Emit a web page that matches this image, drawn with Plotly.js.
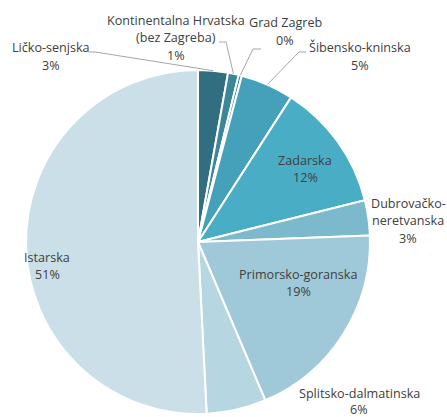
<!DOCTYPE html>
<html>
<head>
<meta charset="utf-8">
<script src="https://cdn.plot.ly/plotly-3.0.1.min.js"></script>
<style>html,body{margin:0;padding:0;background:#fff}#chart{width:447px;height:417px}</style>
</head>
<body>
<div id="chart"></div>
<script>
// Data
const regions = ['Ličko-senjska', 'Kontinentalna Hrvatska (bez Zagreba)', 'Grad Zagreb', 'Šibensko-kninska', 'Zadarska', 'Dubrovačko-neretvanska', 'Primorsko-goranska', 'Splitsko-dalmatinska', 'Istarska'];
const labelLines = [['Ličko-senjska'], ['Kontinentalna Hrvatska', '(bez Zagreba)'], ['Grad Zagreb'], ['Šibensko-kninska'], ['Zadarska'], ['Dubrovačko-', 'neretvanska'], ['Primorsko-goranska'], ['Splitsko-dalmatinska'], ['Istarska']];
const shares = [2.8, 1.0, 0.3, 5.0, 12.0, 3.3, 19.2, 5.6, 50.8];
const colors = ['#316f80', '#3b8799', '#3f92a8', '#45a0b9', '#4aadc6', '#7cb9cd', '#9fc9d8', '#b6d6e1', '#cbdfe8'];

// Geometry (pixels)
const W = 447, H = 417;
const cx = 198, cy = 242, R = 172;
const px = x => x / W;
const py = y => 1 - y / H;

// label placement: text center x, first line y, line step, leader (null or list of points before edge)
const labelPos = [
  {x: 51, y: 48, step: 17.5, lead: [[89, 52], [95, 52]]},
  {x: 176, y: 20, step: 17.5, lead: [[219, 42], [226, 42]]},
  {x: 285, y: 23, step: 17.5, lead: [[261, 49], [253, 49]]},
  {x: 360, y: 48, step: 17.5, lead: [[306, 52], [299, 52]]},
  {x: 305, y: 160, step: 17.5, lead: null},
  {x: 408, y: 203, step: 17.5, lead: null},
  {x: 298, y: 274, step: 17.5, lead: null},
  {x: 359, y: 393, step: 16, lead: null},
  {x: 47, y: 257, step: 17.5, lead: null}
];

const total = shares.reduce((a, b) => a + b, 0);
const annotations = [];
const shapes = [];
let cum = 0;
const font = {family: 'Open Sans, Noto Sans, sans-serif', size: 12.6, color: '#404040'};
shares.forEach((v, i) => {
  const mid = (cum + v / 2) / total * 2 * Math.PI;
  cum += v;
  const lp = labelPos[i];
  const lines = labelLines[i].concat([Math.round(v / total * 100) + '%']);
  lines.forEach((t, k) => {
    annotations.push({
      text: t, xref: 'paper', yref: 'paper', x: px(lp.x), y: py(lp.y + k * lp.step),
      xanchor: 'center', yanchor: 'middle', showarrow: false, font: font
    });
  });
  if (lp.lead) {
    const ex = cx + R * Math.sin(mid), ey = cy - R * Math.cos(mid);
    const pts = lp.lead.concat([[ex, ey]]);
    let path = 'M ' + pts.map(p => px(p[0]).toFixed(4) + ',' + py(p[1]).toFixed(4)).join(' L ');
    shapes.push({type: 'path', xref: 'paper', yref: 'paper', path: path, line: {color: '#a6a6a6', width: 1}});
  }
});

const trace = {
  type: 'pie',
  labels: regions,
  values: shares,
  sort: false,
  direction: 'clockwise',
  rotation: 0,
  textinfo: 'none',
  hoverinfo: 'label+percent',
  marker: {colors: colors, line: {color: '#ffffff', width: 2}},
  domain: {x: [px(cx - R), px(cx + R)], y: [py(cy + R), py(cy - R)]},
  showlegend: false
};

const layout = {
  width: W, height: H,
  margin: {l: 0, r: 0, t: 0, b: 0},
  paper_bgcolor: '#ffffff',
  showlegend: false,
  annotations: annotations,
  shapes: shapes
};

Plotly.newPlot('chart', [trace], layout, {displayModeBar: false, staticPlot: true});
</script>
</body>
</html>
